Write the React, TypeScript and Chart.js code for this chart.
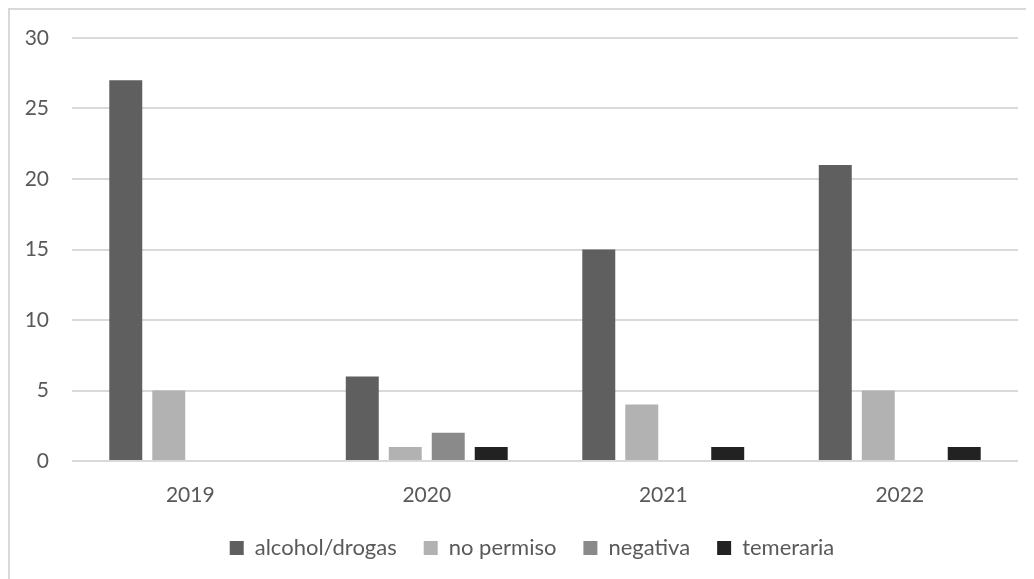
import React, { useEffect, useRef } from "react";
import { Chart, registerables } from "chart.js";

Chart.register(...registerables);

const categories = ["2019", "2020", "2021", "2022"];
const alcoholDrogas = [27, 6, 15, 21];
const noPermiso = [5, 1, 4, 5];
const negativa = [0, 2, 0, 0];
const temeraria = [0, 1, 1, 1];
const yTicks = [0, 5, 10, 15, 20, 25, 30];

const FONT = "Lato, 'Open Sans', sans-serif";

const legendShift = {
  id: "legendShift",
  afterLayout(chart: any) {
    if (chart.legend) {
      chart.legend.left += 18;
      chart.legend.right += 18;
    }
  },
};

export default function App() {
  const ref = useRef<HTMLCanvasElement | null>(null);
  useEffect(() => {
    if (!ref.current) return;
    const chart = new Chart(ref.current, {
      type: "bar",
      data: {
        labels: categories,
        datasets: [
          { label: "alcohol/drogas", data: alcoholDrogas, backgroundColor: "#5f5f5f" },
          { label: "no permiso", data: noPermiso, backgroundColor: "#b2b2b2" },
          { label: "negativa", data: negativa, backgroundColor: "#8a8a8a" },
          { label: "temeraria", data: temeraria, backgroundColor: "#222222" },
        ],
      },
      plugins: [legendShift],
      options: {
        animation: false,
        responsive: true,
        maintainAspectRatio: false,
        datasets: { bar: { categoryPercentage: 0.727, barPercentage: 0.767 } },
        layout: { padding: { left: 0, top: 28, right: 16, bottom: 10 } },
        plugins: {
          tooltip: { enabled: false },
          legend: {
            position: "bottom",
            labels: {
              color: "#595959",
              font: { family: FONT, size: 22 },
              boxWidth: 14,
              boxHeight: 14,
              padding: 27,
            },
          },
        },
        scales: {
          x: {
            grid: { display: false },
            border: { display: false },
            ticks: { color: "#595959", font: { family: FONT, size: 21 }, padding: 14 },
            afterFit: (s: any) => {
              s.height = 49;
            },
          },
          y: {
            min: 0,
            max: 30,
            afterBuildTicks: (s: any) => {
              s.ticks = yTicks.map((v) => ({ value: v }));
            },
            grid: { color: "#d9d9d9", lineWidth: 2, drawTicks: false },
            border: { display: false },
            ticks: { color: "#595959", font: { family: FONT, size: 21 }, padding: 23 },
            afterFit: (s: any) => {
              s.width = 62;
              s.paddingTop = 0;
              s.paddingBottom = 0;
            },
          },
        },
      },
    });
    return () => chart.destroy();
  }, []);
  return (
    <div
      style={{
        width: 1026,
        height: 571,
        borderTop: "2px solid #d9d9d9",
        borderLeft: "2px solid #d9d9d9",
        boxSizing: "border-box",
        position: "relative",
        background: "#fff",
      }}
    >
      <canvas ref={ref} />
    </div>
  );
}
